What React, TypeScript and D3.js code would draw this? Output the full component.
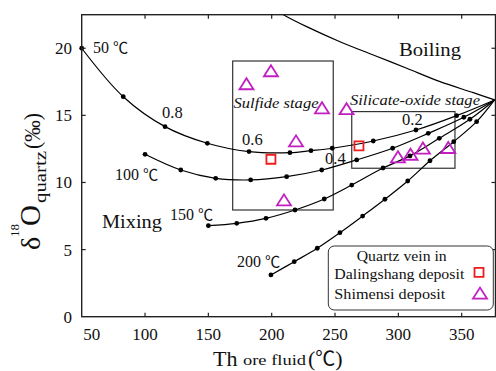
import React from "react";
import * as d3 from "d3";

const W = 496, H = 371;
const X0 = 81.7, X1 = 495.5, Y0 = 316.7, Y1 = 14.7;

const xTicks = [50, 100, 150, 200, 250, 300, 350];
const yTicks = [0, 5, 10, 15, 20];
const converge: [number, number] = [376, 16.15];

const curve50: [number, number][] = [[50, 20.0], [82.8, 16.39], [115.8, 14.16], [149.2, 12.92], [182.1, 12.3], [214.4, 12.22], [231.0, 12.37], [247.8, 12.55], [280.2, 13.09], [313.9, 13.91], [346.0, 14.98]];
const curve100: [number, number][] = [[100, 12.1], [128.2, 10.93], [155.8, 10.31], [183.4, 10.19], [211.8, 10.43], [239.5, 10.93], [267.1, 11.68], [295.5, 12.55], [323.6, 13.66], [351.7, 14.86]];
const curve150: [number, number][] = [[150, 6.78], [172.4, 6.96], [195.5, 7.33], [218.4, 7.95], [241.5, 8.77], [263.2, 9.81], [287.9, 11.08], [309.2, 11.98], [332.3, 13.29], [356.5, 14.71]];
const curve200: [number, number][] = [[199.4, 3.11], [217.8, 4.1], [236.0, 5.1], [253.9, 6.26], [271.8, 7.5], [289.4, 8.75], [307.4, 10.11], [325.0, 11.62], [343.7, 13.04], [361.8, 14.53]];
const boiling: [number, number][] = [[205, 22.75], [209.2, 22.5], [227.6, 21.61], [253.9, 20.49], [280.2, 19.5], [306.6, 18.51], [332.9, 17.51], [359.2, 16.69], [376, 16.15]];

const shimensi: [number, number][] = [[180.1, 17.34], [199.4, 18.31], [239.7, 15.55], [259.1, 15.48], [219.2, 13.09], [209.7, 8.69], [299.7, 11.9], [309.6, 12.09], [319.4, 12.55], [339.4, 12.59]];
const dalingshang: [number, number][] = [[199.4, 11.73], [268.9, 12.72]];

const sulfideBox = { x0: 169.2, x1: 248.6, y0: 7.95, y1: 19.05 };
const silicateBox = { x0: 263.2, x1: 344.7, y0: 11.06, y1: 15.28 };

const FONT = "'Liberation Serif', 'Times New Roman', 'DejaVu Serif', serif";
const CJK = "'Noto Sans CJK SC', 'DejaVu Sans', sans-serif";
const TRI = "#c21fc2";
const SQ = "#ee1c1c";

function Deg({ x, y, t, size }: { x: number; y: number; t: string; size: number }) {
  return (
    <text x={x} y={y} fontSize={size}>
      {t} <tspan fontFamily={CJK} fontSize={size * 0.95}>℃</tspan>
    </text>
  );
}

export default function App() {
  const x = d3.scaleLinear().domain([50, 376.7]).range([X0, X1]);
  const y = d3.scaleLinear().domain([0, 22.5]).range([Y0, Y1]);
  const line = d3.line<[number, number]>().x(d => x(d[0])).y(d => y(d[1])).curve(d3.curveCatmullRom.alpha(0.5));
  const curves = [curve50, curve100, curve150, curve200];
  const tri = (cx: number, cy: number) => `M${cx - 7},${cy + 5.3}L${cx + 7},${cy + 5.3}L${cx},${cy - 5.7}Z`;
  const sq = (cx: number, cy: number) => `M${cx - 4.5},${cy - 4.5}h9v9h-9Z`;
  const rect = (b: { x0: number; x1: number; y0: number; y1: number }) => (
    <rect x={x(b.x0)} y={y(b.y1)} width={x(b.x1) - x(b.x0)} height={y(b.y0) - y(b.y1)} fill="none" stroke="#333" strokeWidth={1.2} />
  );
  return (
    <svg width={W} height={H} style={{ position: "absolute", left: 0, top: 0, background: "#fff" }} fontFamily={FONT}>
      <defs>
        <clipPath id="plot"><rect x={X0} y={Y1} width={X1 - X0} height={Y0 - Y1} /></clipPath>
      </defs>
      <rect x={0} y={0} width={W} height={H} fill="#fff" />
      {rect(sulfideBox)}
      {rect(silicateBox)}
      <g clipPath="url(#plot)" fill="none" stroke="#000" strokeWidth={1.2}>
        {curves.map((c, i) => <path key={i} d={line([...c, converge]) || ""} />)}
        <path d={line(boiling) || ""} />
      </g>
      <g fill="#000">
        {curves.map((c, i) => c.map((p, j) => <circle key={i + "-" + j} cx={x(p[0])} cy={y(p[1])} r={2.4} />))}
      </g>
      <g fill="none" stroke={TRI} strokeWidth={1.8}>
        {shimensi.map((p, i) => <path key={i} d={tri(x(p[0]), y(p[1]))} />)}
      </g>
      <g fill="none" stroke={SQ} strokeWidth={1.8}>
        {dalingshang.map((p, i) => <path key={i} d={sq(x(p[0]), y(p[1]))} />)}
      </g>
      {/* frame */}
      <rect x={X0} y={Y1} width={X1 - X0} height={Y0 - Y1} fill="none" stroke="#222" strokeWidth={1.4} />
      <g stroke="#222" strokeWidth={1.2}>
        {xTicks.slice(1).map(t => <line key={"b" + t} x1={x(t)} x2={x(t)} y1={Y0} y2={Y0 - 4} />)}
        {xTicks.slice(1).map(t => <line key={"t" + t} x1={x(t)} x2={x(t)} y1={Y1} y2={Y1 + 4} />)}
        {yTicks.slice(1).map(t => <line key={"l" + t} x1={X0} x2={X0 + 4} y1={y(t)} y2={y(t)} />)}
        {yTicks.slice(1).map(t => <line key={"r" + t} x1={X1} x2={X1 - 4} y1={y(t)} y2={y(t)} />)}
      </g>
      <g fontSize={17} fill="#111">
        {xTicks.map(t => <text key={t} x={t === 50 ? x(t) + 10 : x(t)} y={340} textAnchor="middle">{t}</text>)}
        {yTicks.map(t => <text key={t} x={72} y={y(t)} dy="0.35em" textAnchor="end">{t}</text>)}
      </g>
      {/* axis titles */}
      <g fill="#111">
        <text x={213} y={366} fontSize={22}>Th</text>
        <text x={243} y={365} fontSize={15} textLength={63} lengthAdjust="spacingAndGlyphs">ore fluid</text>
        <text x={308} y={366} fontSize={22}>(<tspan fontFamily={CJK} fontSize={20}>℃</tspan>)</text>
      </g>
      <g transform="translate(40,250) rotate(-90)" fill="#111">
        <text x={0} y={0} fontSize={28}>δ</text>
        <text x={13} y={-21} fontSize={13}>18</text>
        <text x={24} y={0} fontSize={29}>O</text>
        <text x={47} y={6} fontSize={17} textLength={52} lengthAdjust="spacingAndGlyphs">quartz</text>
        <text x={101} y={0} fontSize={24} textLength={36} lengthAdjust="spacingAndGlyphs">(‰)</text>
      </g>
      {/* annotations */}
      <g fill="#111">
        <Deg x={93} y={53} t="50" size={16} />
        <Deg x={115} y={180} t="100" size={16} />
        <Deg x={170} y={220} t="150" size={16} />
        <Deg x={237} y={267} t="200" size={16} />
        <text x={162} y={118} fontSize={16.5}>0.8</text>
        <text x={242} y={145} fontSize={16.5}>0.6</text>
        <text x={325} y={164} fontSize={16.5}>0.4</text>
        <text x={402} y={125} fontSize={16.5}>0.2</text>
        <text x={102} y={228} fontSize={19} textLength={60} lengthAdjust="spacingAndGlyphs">Mixing</text>
        <text x={399} y={56} fontSize={19} textLength={62} lengthAdjust="spacingAndGlyphs">Boiling</text>
        <text x={233.5} y={108} fontSize={15} fontStyle="italic" textLength={85} lengthAdjust="spacingAndGlyphs">Sulfide stage</text>
        <text x={350} y={104.5} fontSize={15} fontStyle="italic" textLength={130} lengthAdjust="spacingAndGlyphs">Silicate-oxide stage</text>
      </g>
      {/* legend */}
      <rect x={328.3} y={246} width={165} height={64} rx={6} fill="#fff" stroke="#333" strokeWidth={1} />
      <g fill="#111" fontSize={15.5}>
        <text x={401.7} y={261} textAnchor="middle" textLength={90} lengthAdjust="spacingAndGlyphs">Quartz vein in</text>
        <text x={334.3} y={278.5} textLength={130} lengthAdjust="spacingAndGlyphs">Dalingshang deposit</text>
        <text x={334.3} y={299} textLength={111} lengthAdjust="spacingAndGlyphs">Shimensi deposit</text>
      </g>
      <path d={sq(479, 272.3)} fill="none" stroke={SQ} strokeWidth={1.8} />
      <path d={tri(480, 293.3)} fill="none" stroke={TRI} strokeWidth={1.8} />
    </svg>
  );
}
